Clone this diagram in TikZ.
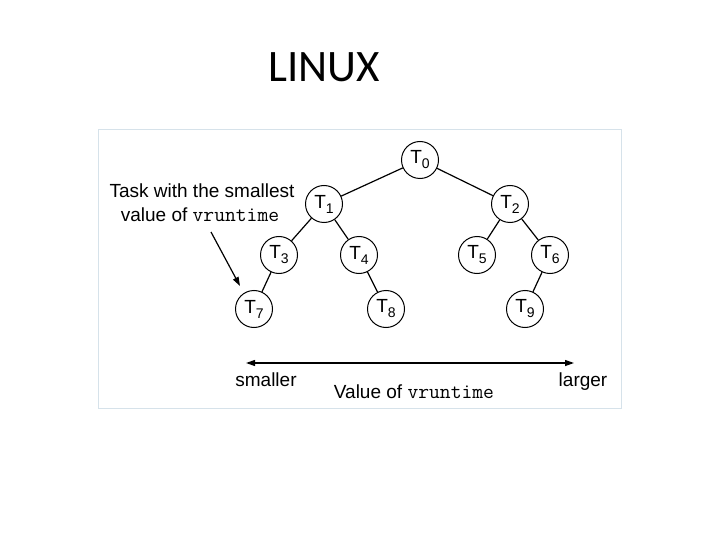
\documentclass[tikz,border=0pt]{standalone}
\usepackage{fontspec}
\setmainfont{Liberation Sans}
\newfontfamily\titlefont{Carlito}
\newcommand{\vrt}{{\ttfamily\fontsize{21}{21}\selectfont vruntime}}
\usetikzlibrary{arrows.meta}
\newcommand{\Tn}[1]{T\raisebox{-0.5ex}{\fontsize{14}{14}\selectfont #1}}
\tikzset{
  tnode/.style={circle,draw,line width=1pt,minimum size=37pt,inner sep=0pt,font=\fontsize{19}{19}\selectfont},
  edge/.style={line width=1.2pt},
  lbl/.style={font=\fontsize{19}{21}\selectfont,inner sep=0pt,anchor=base}
}
\begin{document}
\begin{tikzpicture}[x=1pt,y=-1pt]
\useasboundingbox (0,0) rectangle (720,540);
\node[font=\titlefont\fontsize{45}{45}\selectfont,inner sep=0pt,anchor=base] (title) at (324,82) {LINUX};
\draw[draw={rgb,255:red,214;green,226;blue,234},line width=1pt] (98,130) rectangle (621,408);
\node[tnode] (t0) at (420,160) {\Tn{0}};
\node[tnode] (t1) at (324,204) {\Tn{1}};
\node[tnode] (t2) at (510,204) {\Tn{2}};
\node[tnode] (t3) at (279,255) {\Tn{3}};
\node[tnode] (t4) at (359,255) {\Tn{4}};
\node[tnode] (t5) at (477,255) {\Tn{5}};
\node[tnode] (t6) at (550,255) {\Tn{6}};
\node[tnode] (t7) at (254,309) {\Tn{7}};
\node[tnode] (t8) at (386,309) {\Tn{8}};
\node[tnode] (t9) at (525,309) {\Tn{9}};
\draw[edge] (t0) -- (t1);
\draw[edge] (t0) -- (t2);
\draw[edge] (t1) -- (t3);
\draw[edge] (t1) -- (t4);
\draw[edge] (t2) -- (t5);
\draw[edge] (t2) -- (t6);
\draw[edge] (t3) -- (t7);
\draw[edge] (t4) -- (t8);
\draw[edge] (t6) -- (t9);
\node[lbl] (task1) at (202,198) {Task with the smallest};
\node[lbl] (task2) at (200,222) {value of \vrt};
\coordinate (astart) at (211,232);
\coordinate (aend) at (240,286);
\draw[edge,-{Triangle[length=9pt,width=6pt]}] (astart) -- (aend);
\coordinate (left) at (246,363);
\coordinate (right) at (574,363);
\draw[edge,{Triangle[length=9pt,width=6pt]}-{Triangle[length=9pt,width=6pt]}] (left) -- (right);
\node[lbl] (smaller) at (266,386) {smaller};
\node[lbl] (larger) at (583,386) {larger};
\node[lbl] (value) at (414,398) {Value of \vrt};
\end{tikzpicture}
\end{document}
